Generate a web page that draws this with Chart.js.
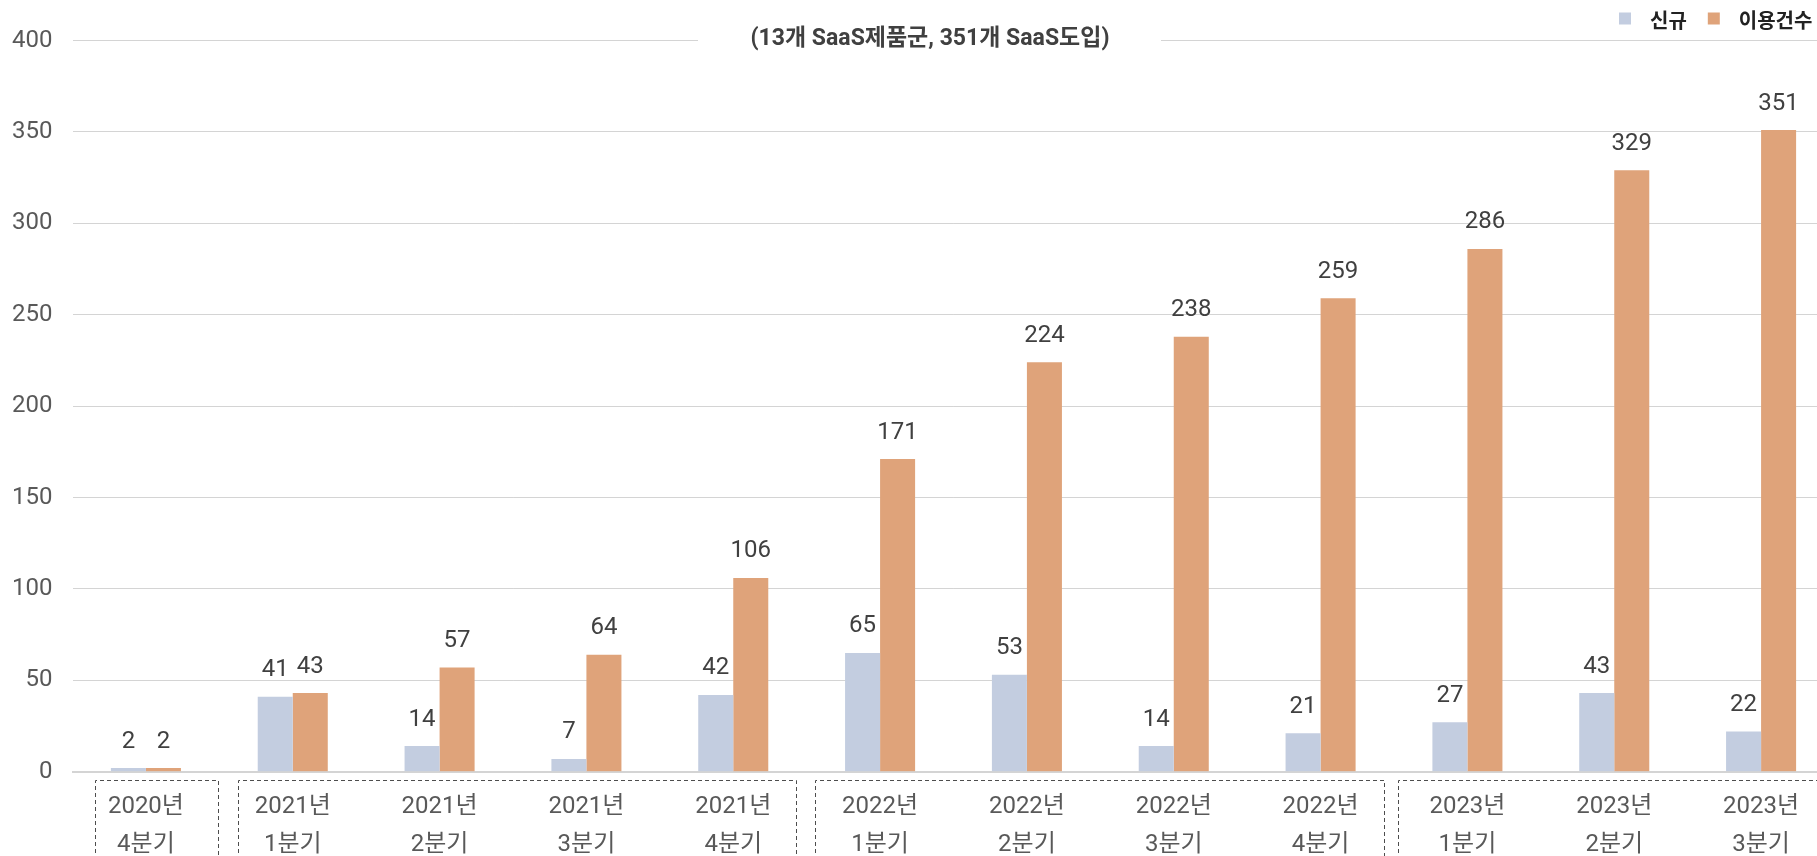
<!DOCTYPE html>
<html><head><meta charset="utf-8">
<script src="https://cdn.jsdelivr.net/npm/chart.js@4/dist/chart.umd.min.js"></script>
<style>
html,body{margin:0;padding:0;overflow:hidden;background:#fff;width:1817px;height:856px}
#wrap{position:relative;width:1840px;height:900px}
canvas{display:block}
</style></head><body>
<div id="wrap"><canvas id="c" width="1840" height="900"></canvas></div>
<script>
const categories = [
  ['2020년','4분기'],['2021년','1분기'],['2021년','2분기'],['2021년','3분기'],['2021년','4분기'],
  ['2022년','1분기'],['2022년','2분기'],['2022년','3분기'],['2022년','4분기'],
  ['2023년','1분기'],['2023년','2분기'],['2023년','3분기']
];
const newCounts   = [2, 41, 14, 7, 42, 65, 53, 14, 21, 27, 43, 22];
const totalCounts = [2, 43, 57, 64, 106, 171, 224, 238, 259, 286, 329, 351];
const seriesNames = ['신규', '이용건수'];
const yMin = 0, yMax = 400, yStep = 50;
const titleText = '(13개 SaaS제품군, 351개 SaaS도입)';
const yearGroups = [[0,0],[1,4],[5,8],[9,11]];

const FONT = "Roboto, 'Noto Sans CJK KR', sans-serif";
const KFONT = "'Noto Sans CJK KR', Roboto, sans-serif";
const colors = ['#C3CDE0', '#DFA37A'];

const titlePlugin = {
  id: 'titleBox',
  afterDraw(chart) {
    const ctx = chart.ctx;
    ctx.save();
    ctx.fillStyle = '#fff';
    ctx.fillRect(698, 26, 463, 26);
    ctx.font = "bold 23px " + FONT;
    ctx.fillStyle = '#404040';
    ctx.textAlign = 'center';
    ctx.textBaseline = 'middle';
    ctx.fillText(titleText, 930, 39);
    ctx.restore();
  }
};

const legendPlugin = {
  id: 'customLegend',
  afterDraw(chart) {
    const ctx = chart.ctx;
    ctx.save();
    ctx.font = "bold 20px " + KFONT;
    ctx.textBaseline = 'middle';
    ctx.textAlign = 'left';
    let x = 1619;
    chart.data.datasets.forEach((ds) => {
      ctx.fillStyle = ds.backgroundColor;
      ctx.fillRect(x, 12.5, 12, 12);
      ctx.fillStyle = '#222';
      ctx.fillText(ds.label, x + 31, 20);
      x += 31 + ctx.measureText(ds.label).width + 21;
    });
    ctx.restore();
  }
};

const labelPlugin = {
  id: 'barLabels',
  afterDraw(chart) {
    const ctx = chart.ctx;
    ctx.save();
    ctx.font = "24px " + FONT;
    ctx.fillStyle = '#404040';
    ctx.textAlign = 'center';
    ctx.textBaseline = 'alphabetic';
    chart.data.datasets.forEach((ds, di) => {
      const meta = chart.getDatasetMeta(di);
      meta.data.forEach((bar, i) => {
        ctx.fillText(String(ds.data[i]), bar.x, bar.y - 20.5);
      });
    });
    ctx.restore();
  }
};

const groupPlugin = {
  id: 'groupBoxes',
  afterDraw(chart) {
    const ctx = chart.ctx;
    const xs = chart.scales.x;
    const leftOff = [-51, -55, -65, -69];
    const rightOff = [72, 63, 63, 120];
    ctx.save();
    ctx.strokeStyle = '#4d4d4d';
    ctx.lineWidth = 1;
    ctx.setLineDash([4, 3]);
    yearGroups.forEach((g, k) => {
      const l = Math.round(xs.getPixelForValue(g[0]) + leftOff[k]) + 0.5;
      const r = Math.round(xs.getPixelForValue(g[1]) + rightOff[k]) + 0.5;
      const t = 780.5, b = 895;
      ctx.beginPath();
      ctx.moveTo(l, b); ctx.lineTo(l, t); ctx.lineTo(r, t); ctx.lineTo(r, b);
      ctx.stroke();
    });
    ctx.restore();
  }
};

new Chart(document.getElementById('c'), {
  type: 'bar',
  data: {
    labels: categories,
    datasets: [
      { label: seriesNames[0], data: newCounts, backgroundColor: colors[0], borderWidth: 0 },
      { label: seriesNames[1], data: totalCounts, backgroundColor: colors[1], borderWidth: 0 }
    ]
  },
  options: {
    responsive: false,
    animation: false,
    devicePixelRatio: 1,
    layout: { padding: { top: 40.5, right: 5.5, bottom: 28.3, left: 0 } },
    datasets: { bar: { categoryPercentage: 0.477, barPercentage: 1 } },
    plugins: { legend: { display: false }, title: { display: false }, tooltip: { enabled: false } },
    scales: {
      x: {
        grid: { display: false, drawTicks: false },
        border: { display: true, color: '#d4d4d4', width: 2 },
        ticks: { font: { family: FONT, size: 24, lineHeight: 1.58 }, color: '#595959', padding: 16, maxRotation: 0, autoSkip: false },
        afterFit(s) { s.height = 100; }
      },
      y: {
        min: yMin, max: yMax, z: 1,
        grid: { color: 'rgba(0,0,0,0.17)', lineWidth: 1, drawTicks: false },
        border: { display: false },
        ticks: { stepSize: yStep, font: { family: FONT, size: 24 }, color: '#595959', padding: 20 },
        afterFit(s) { s.width = 72.5; }
      }
    }
  },
  plugins: [labelPlugin, groupPlugin, titlePlugin, legendPlugin]
});
</script>
</body></html>
